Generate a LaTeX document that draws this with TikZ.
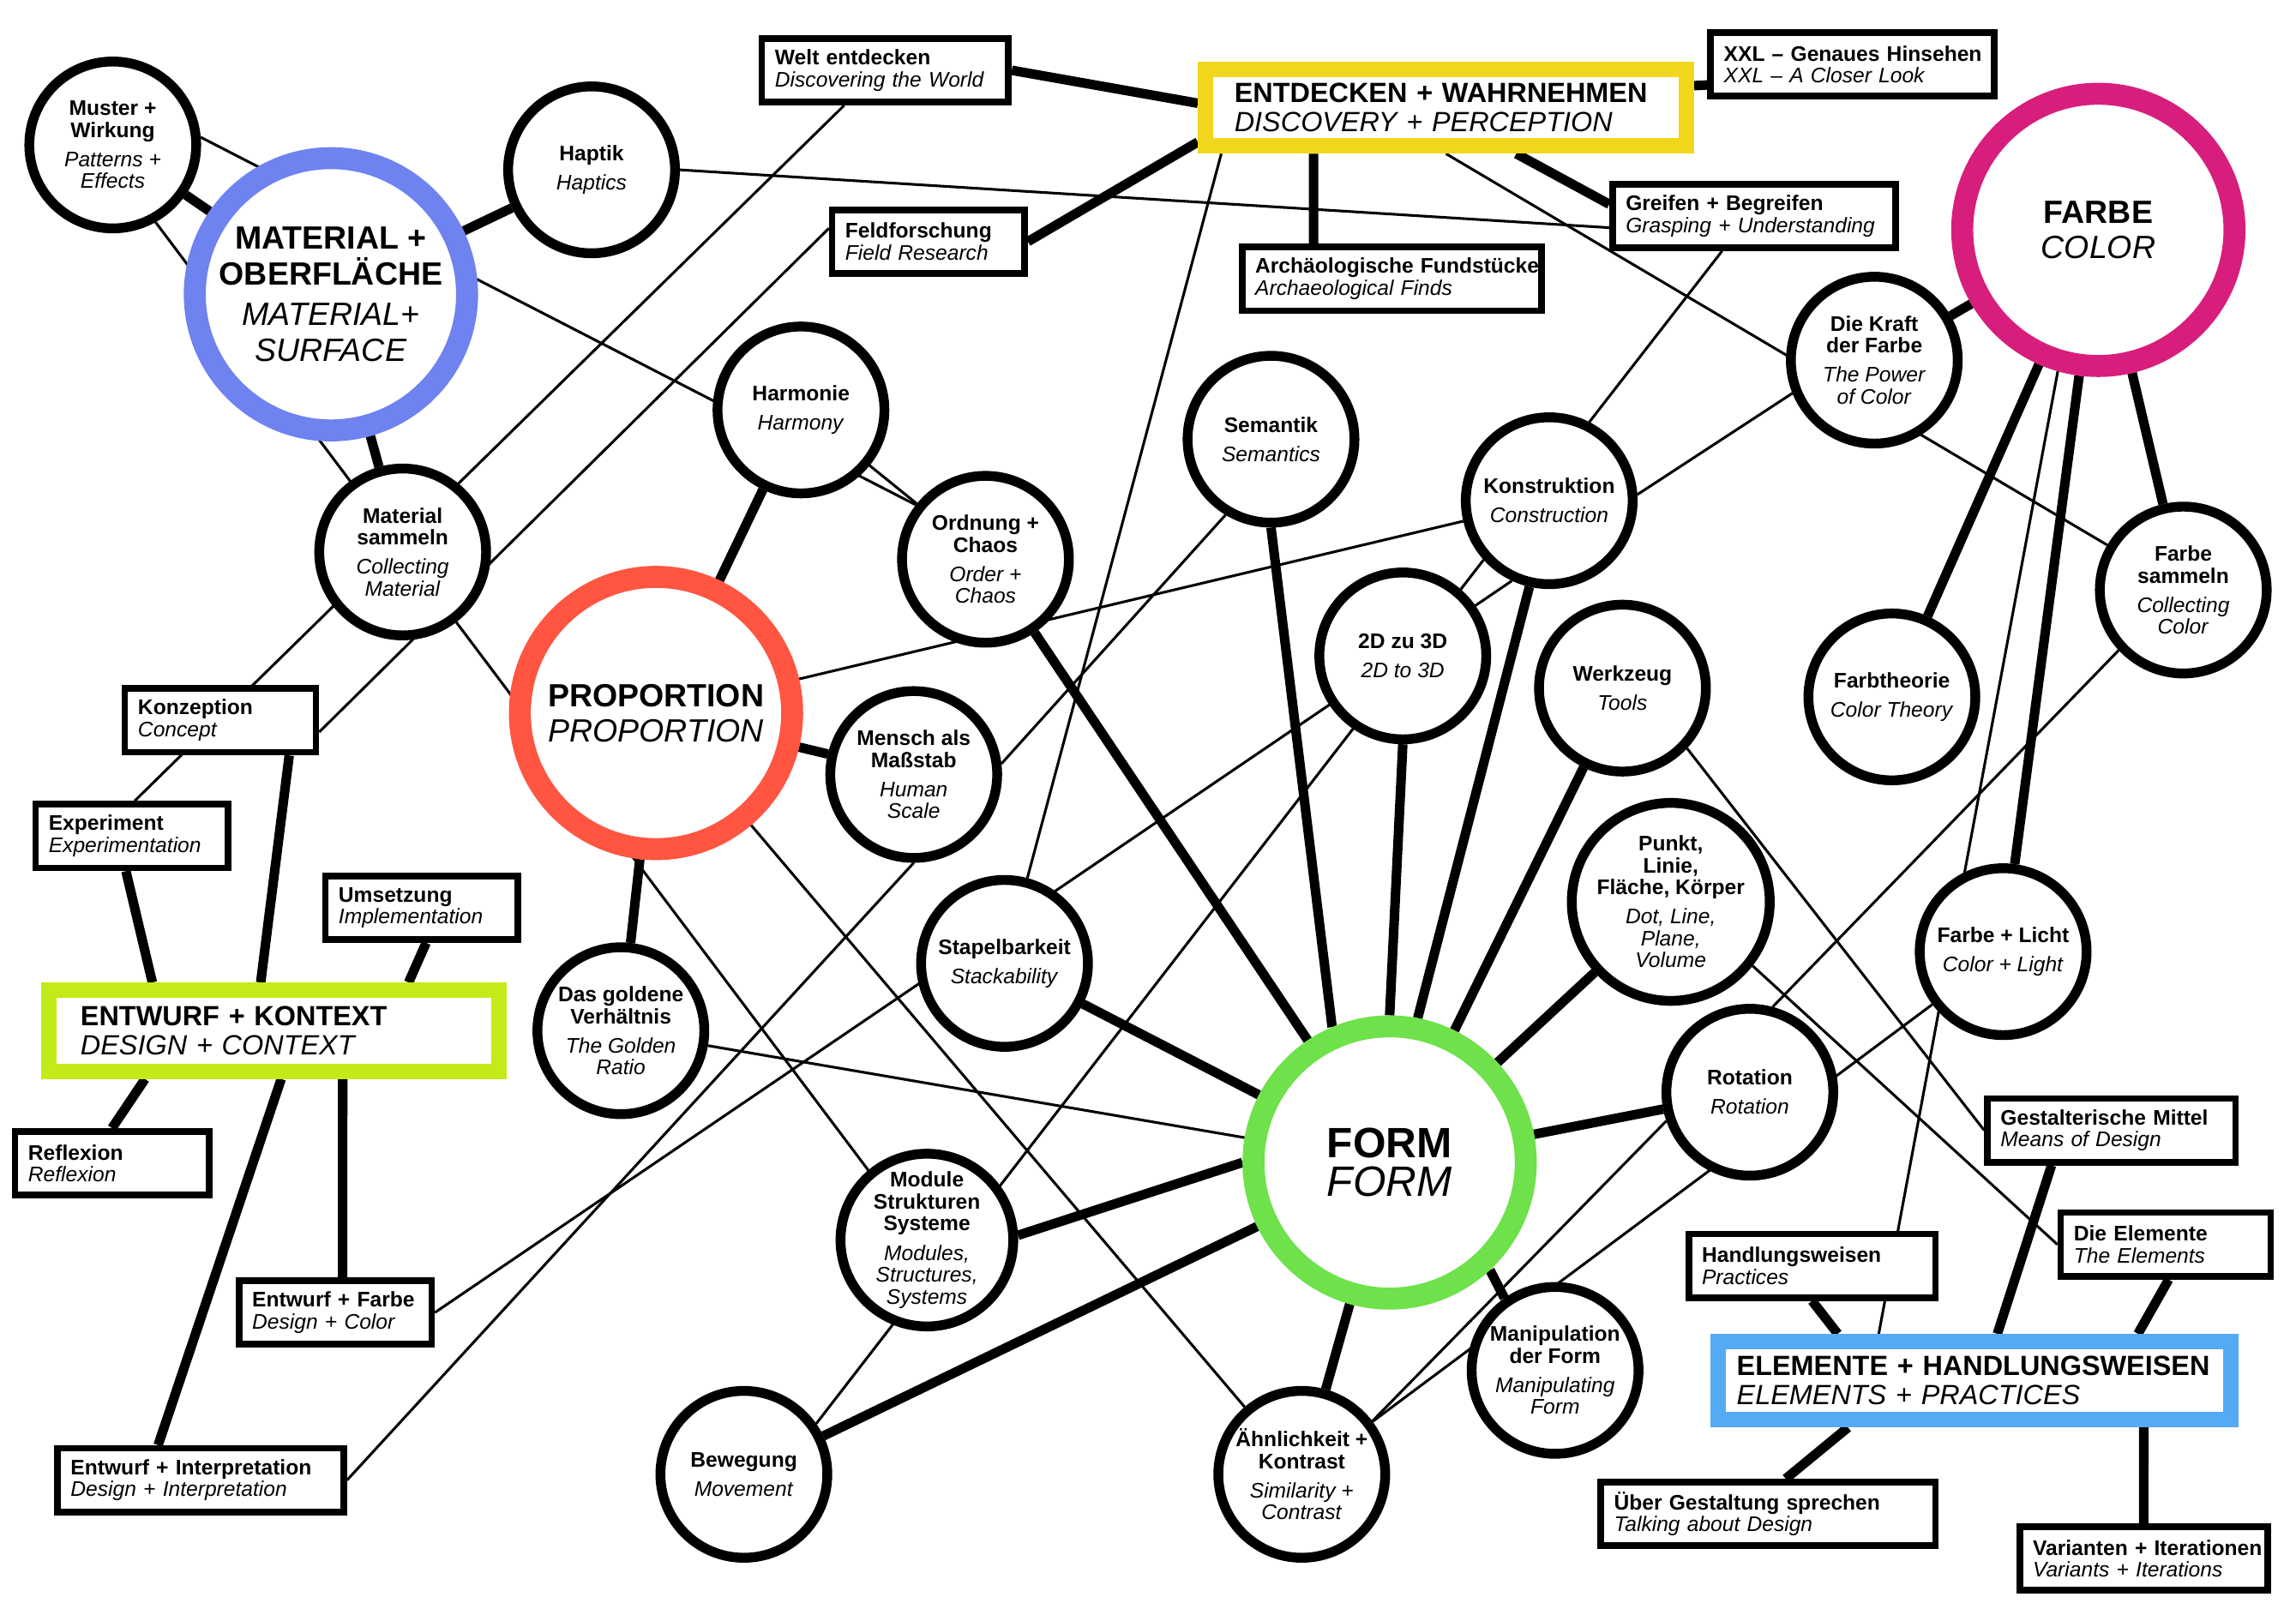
\documentclass[tikz,border=0pt]{standalone}
\usepackage{fontspec}
\setmainfont{Liberation Sans}
\usetikzlibrary{positioning}
\pgfdeclarelayer{background}
\pgfsetlayers{background,main}
\definecolor{matblue}{HTML}{6E82F0}
\definecolor{propred}{HTML}{FF5541}
\definecolor{formgreen}{HTML}{6EE14B}
\definecolor{farbmagenta}{HTML}{D71E7D}
\definecolor{entyellow}{HTML}{F0D71E}
\definecolor{kontextlime}{HTML}{C3EB19}
\definecolor{elemblue}{HTML}{55AAF5}
\tikzset{
	every node/.style={font=\fontsize{8.2}{8.5}\selectfont},
}
\newcommand\pair[2]{\mbox{\textbf{#1}}\\\mbox{\textit{#2}}}

\begin{document}
\begin{tikzpicture}[x=0.02cm, y=-0.02cm,
idea/.style = {circle, draw, line width=0.134cm, fill=white, minimum size=2.28cm, inner sep=0, align=center},
hub/.style = {circle, draw=#1, line width=0.3cm, fill=white, minimum size=3.72cm, inner sep=0, align=center, font=\fontsize{12.5}{13.7}\selectfont},
tagbox/.style = {rectangle, draw, line width=0.09cm, fill=white, minimum height=0.87cm, inner xsep=0.18cm, inner ysep=0, align=left, text width=#1},
themebox/.style = {rectangle, draw=#1, line width=0.21cm, fill=white, inner ysep=0, align=left, font=\fontsize{10.8}{11.4}\selectfont},
thicklink/.style = {line width=0.13cm},
thinlink/.style = {line width=0.036cm}]
\useasboundingbox (0,0) rectangle (1568,1107);

\node[hub=matblue] (material) at (226,201) {\textbf{MATERIAL +}\\\textbf{OBERFLÄCHE}\\[0.08cm]\textit{MATERIAL+}\\\textit{SURFACE}};
\node[hub=propred] (proportion) at (448,487) {\textbf{PROPORTION}\\\textit{PROPORTION}};
\node[hub=formgreen, font=\fontsize{16.5}{15}\selectfont] (form) at (949,794) {\textbf{FORM}\\\textit{FORM}};
\node[hub=farbmagenta] (farbe) at (1433,157) {\textbf{FARBE}\\\textit{COLOR}};

\node[idea] (muster) at (77,99) {\textbf{Muster +}\\\textbf{Wirkung}\\[0.1cm]\textit{Patterns +}\\\textit{Effects}};
\node[idea] (haptik) at (404,116) {\textbf{Haptik}\\[0.1cm]\textit{Haptics}};
\node[idea] (materialsammeln) at (275,377) {\textbf{Material}\\\textbf{sammeln}\\[0.1cm]\textit{Collecting}\\\textit{Material}};
\node[idea] (harmonie) at (547,280) {\textbf{Harmonie}\\[0.1cm]\textit{Harmony}};
\node[idea] (ordnung) at (673,382) {\textbf{Ordnung +}\\\textbf{Chaos}\\[0.1cm]\textit{Order +}\\\textit{Chaos}};
\node[idea] (mensch) at (624,529) {\textbf{Mensch als}\\\textbf{Maßstab}\\[0.1cm]\textit{Human}\\\textit{Scale}};
\node[idea] (golden) at (424,704) {\textbf{Das goldene}\\\textbf{Verhältnis}\\[0.1cm]\textit{The Golden}\\\textit{Ratio}};
\node[idea] (semantik) at (868,300) {\textbf{Semantik}\\[0.1cm]\textit{Semantics}};
\node[idea] (konstruktion) at (1058,342) {\textbf{Konstruktion}\\[0.1cm]\textit{Construction}};
\node[idea] (zweidrei) at (958,448) {\textbf{2D zu 3D}\\[0.1cm]\textit{2D to 3D}};
\node[idea] (werkzeug) at (1108,470) {\textbf{Werkzeug}\\[0.1cm]\textit{Tools}};
\node[idea] (stapel) at (686,658) {\textbf{Stapelbarkeit}\\[0.1cm]\textit{Stackability}};
\node[idea] (punkt) at (1141,616) {\textbf{Punkt,}\\\textbf{Linie,}\\\textbf{Fläche, Körper}\\[0.1cm]\textit{Dot, Line,}\\\textit{Plane,}\\\textit{Volume}};
\node[idea] (rotation) at (1195,746) {\textbf{Rotation}\\[0.1cm]\textit{Rotation}};
\node[idea] (module) at (633,847) {\textbf{Module}\\\textbf{Strukturen}\\\textbf{Systeme}\\[0.1cm]\textit{Modules,}\\\textit{Structures,}\\\textit{Systems}};
\node[idea] (bewegung) at (508,1007) {\textbf{Bewegung}\\[0.1cm]\textit{Movement}};
\node[idea] (aehnlich) at (889,1007) {\textbf{Ähnlichkeit +}\\\textbf{Kontrast}\\[0.1cm]\textit{Similarity +}\\\textit{Contrast}};
\node[idea] (manipulation) at (1062,936) {\textbf{Manipulation}\\\textbf{der Form}\\[0.1cm]\textit{Manipulating}\\\textit{Form}};
\node[idea] (kraft) at (1280,246) {\textbf{Die Kraft}\\\textbf{der Farbe}\\[0.1cm]\textit{The Power}\\\textit{of Color}};
\node[idea] (farbesammeln) at (1491,403) {\textbf{Farbe}\\\textbf{sammeln}\\[0.1cm]\textit{Collecting}\\\textit{Color}};
\node[idea] (farbtheorie) at (1292,476) {\textbf{Farbtheorie}\\[0.1cm]\textit{Color Theory}};
\node[idea] (farbelicht) at (1368,650) {\textbf{Farbe + Licht}\\[0.1cm]\textit{Color + Light}};

\node[themebox=entyellow, minimum height=1.05cm, inner xsep=0.395cm, text width=5.78cm] (entdecken) at (987.5,73.5) {\pair{ENTDECKEN + WAHRNEHMEN}{DISCOVERY + PERCEPTION}};
\node[themebox=kontextlime, minimum height=1.11cm, inner xsep=0.435cm, text width=5.28cm] (kontext) at (187,704) {\pair{ENTWURF + KONTEXT}{DESIGN + CONTEXT}};
\node[themebox=elemblue, minimum height=1.07cm, inner xsep=0.255cm, text width=6.5cm] (elemente) at (1348.5,943) {\pair{ELEMENTE + HANDLUNGSWEISEN}{ELEMENTS + PRACTICES}};

\node[tagbox=3.01cm] (welt) at (604.5,48) {\pair{Welt entdecken}{Discovering the World}};
\node[tagbox=3.51cm] (xxl) at (1265,44) {\pair{XXL – Genaues Hinsehen}{XXL – A Closer Look}};
\node[tagbox=3.51cm] (greifen) at (1198,147.5) {\pair{Greifen + Begreifen}{Grasping + Understanding}};
\node[tagbox=2.27cm] (feld) at (634,165) {\pair{Feldforschung}{Field Research}};
\node[tagbox=3.73cm] (arch) at (950.5,190.5) {\pair{Archäologische Fundstücke}{Archaeological Finds}};
\node[tagbox=2.25cm] (konzeption) at (150.5,492) {\pair{Konzeption}{Concept}};
\node[tagbox=2.27cm] (experiment) at (90,571) {\pair{Experiment}{Experimentation}};
\node[tagbox=2.27cm] (umsetzung) at (288,620) {\pair{Umsetzung}{Implementation}};
\node[tagbox=2.29cm] (reflexion) at (76.5,794.5) {\pair{Reflexion}{Reflexion}};
\node[tagbox=2.27cm] (entwurffarbe) at (229,896.5) {\pair{Entwurf + Farbe}{Design + Color}};
\node[tagbox=3.55cm] (interpretation) at (137,1011) {\pair{Entwurf + Interpretation}{Design + Interpretation}};
\node[tagbox=3.03cm] (gestalt) at (1442,772) {\pair{Gestalterische Mittel}{Means of Design}};
\node[tagbox=2.51cm] (dieelemente) at (1479,850) {\pair{Die Elemente}{The Elements}};
\node[tagbox=3.01cm] (handlung) at (1237.5,864.5) {\pair{Handlungsweisen}{Practices}};
\node[tagbox=4.21cm] (ueber) at (1207.5,1034) {\pair{Über Gestaltung sprechen}{Talking about Design}};
\node[tagbox=3.03cm] (varianten) at (1464,1064.5) {\pair{Varianten + Iterationen}{Variants + Iterations}};

\begin{pgfonlayer}{background}
\draw[thicklink] (muster) -- (material);
\draw[thicklink] (material) -- (haptik);
\draw[thicklink] (material) -- (materialsammeln);
\draw[thicklink] (welt.east) -- ([shift={(0,-3)}]entdecken.west);
\draw[thicklink] (feld.east) -- ([shift={(0,-8)}]entdecken.south west);
\draw[thicklink] ([shift={(0,-15)}]entdecken.east) -- ([shift={(0,14)}]xxl.west);
\draw[thicklink] ([shift={(79,0)}]entdecken.south west) -- ([shift={(51,0)}]arch.north west);
\draw[thicklink] ([shift={(48,0)}]entdecken.south) -- ([shift={(0,-8)}]greifen.west);
\draw[thicklink] (harmonie) -- (proportion);
\draw[thicklink] (proportion) -- (mensch);
\draw[thicklink] (proportion) -- (golden);
\draw[thicklink] (ordnung) -- (form);
\draw[thicklink] (semantik.south) -- (form.113);
\draw[thicklink] (konstruktion.257) -- (form.79);
\draw[thicklink] (zweidrei.south) -- (form.north);
\draw[thicklink] (werkzeug) -- (form);
\draw[thicklink] (punkt) -- (form);
\draw[thicklink] (stapel) -- (form);
\draw[thicklink] (form) -- (rotation);
\draw[thicklink] (module.3) -- (form.west);
\draw[thicklink] (form) -- (bewegung);
\draw[thicklink] (form) -- (aehnlich);
\draw[thicklink] (form.-47) -- (manipulation.125);
\draw[thicklink] (kraft) -- (farbe);
\draw[thicklink] (farbe) -- (farbtheorie);
\draw[thicklink] (farbe) -- (farbelicht);
\draw[thicklink] (farbe) -- (farbesammeln);
\draw[thicklink] ([shift={(-4,0)}]experiment.south) -- ([shift={(76,0)}]kontext.north west);
\draw[thicklink] ([shift={(47,0)}]konzeption.south) -- ([shift={(150,0)}]kontext.north west);
\draw[thicklink] ([shift={(3,0)}]umsetzung.south) -- ([shift={(251,0)}]kontext.north west);
\draw[thicklink] ([shift={(71,0)}]kontext.south west) -- (reflexion.north);
\draw[thicklink] ([shift={(206,0)}]kontext.south west) -- ([shift={(5,0)}]entwurffarbe.north);
\draw[thicklink] ([shift={(164,0)}]kontext.south west) -- ([shift={(-29,0)}]interpretation.north);
\draw[thicklink] (handlung.south) -- ([shift={(87,0)}]elemente.north west);
\draw[thicklink] ([shift={(-41,0)}]gestalt.south) -- ([shift={(196,0)}]elemente.north west);
\draw[thicklink] ([shift={(2,0)}]dieelemente.south) -- ([shift={(292,0)}]elemente.north west);
\draw[thicklink] ([shift={(94,0)}]elemente.south west) -- ([shift={(12,0)}]ueber.north);
\draw[thicklink] ([shift={(296,0)}]elemente.south west) -- (varianten.north);

\draw[thinlink] (muster.5) -- (ordnung.142);
\draw[thinlink] (muster.-61) -- (module.130);
\draw[thinlink] (harmonie) -- (ordnung);
\draw[thinlink] (haptik.east) -- ([shift={(0,8)}]greifen.west);
\draw[thinlink] ([shift={(-28,0)}]welt.south) -- ([shift={(2,0)}]experiment.north);
\draw[thinlink] ([shift={(0,-9)}]feld.west) -- ([shift={(0,8)}]konzeption.east);
\draw[thinlink] ([shift={(16,0)}]entdecken.south west) -- (stapel);
\draw[thinlink] (entdecken.south) -- (farbesammeln);
\draw[thinlink] ([shift={(-22,0)}]greifen.south) -- (konstruktion.63);
\draw[thinlink] (kraft.202) -- (konstruktion.4);
\draw[thinlink] (proportion) -- (konstruktion);
\draw[thinlink] (semantik.239) -- (mensch.7);
\draw[thinlink] (mensch.south) -- (interpretation.east);
\draw[thinlink] (proportion) -- (aehnlich);
\draw[thinlink] (golden) -- (form);
\draw[thinlink] (entwurffarbe.east) -- (konstruktion.245);
\draw[thinlink] (bewegung.35) -- (konstruktion.222);
\draw[thinlink] (werkzeug.-43) -- (gestalt.west);
\draw[thinlink] (punkt.-38) -- (dieelemente.west);
\draw[thinlink] (rotation.75) -- (farbesammeln.223);
\draw[thinlink] (farbelicht) -- (aehnlich);
\draw[thinlink] (rotation.199) -- (aehnlich.37);
\draw[thinlink] (farbe.-106) -- ([shift={(115,0)}]elemente.north west);
\end{pgfonlayer}
\end{tikzpicture}
\end{document}
